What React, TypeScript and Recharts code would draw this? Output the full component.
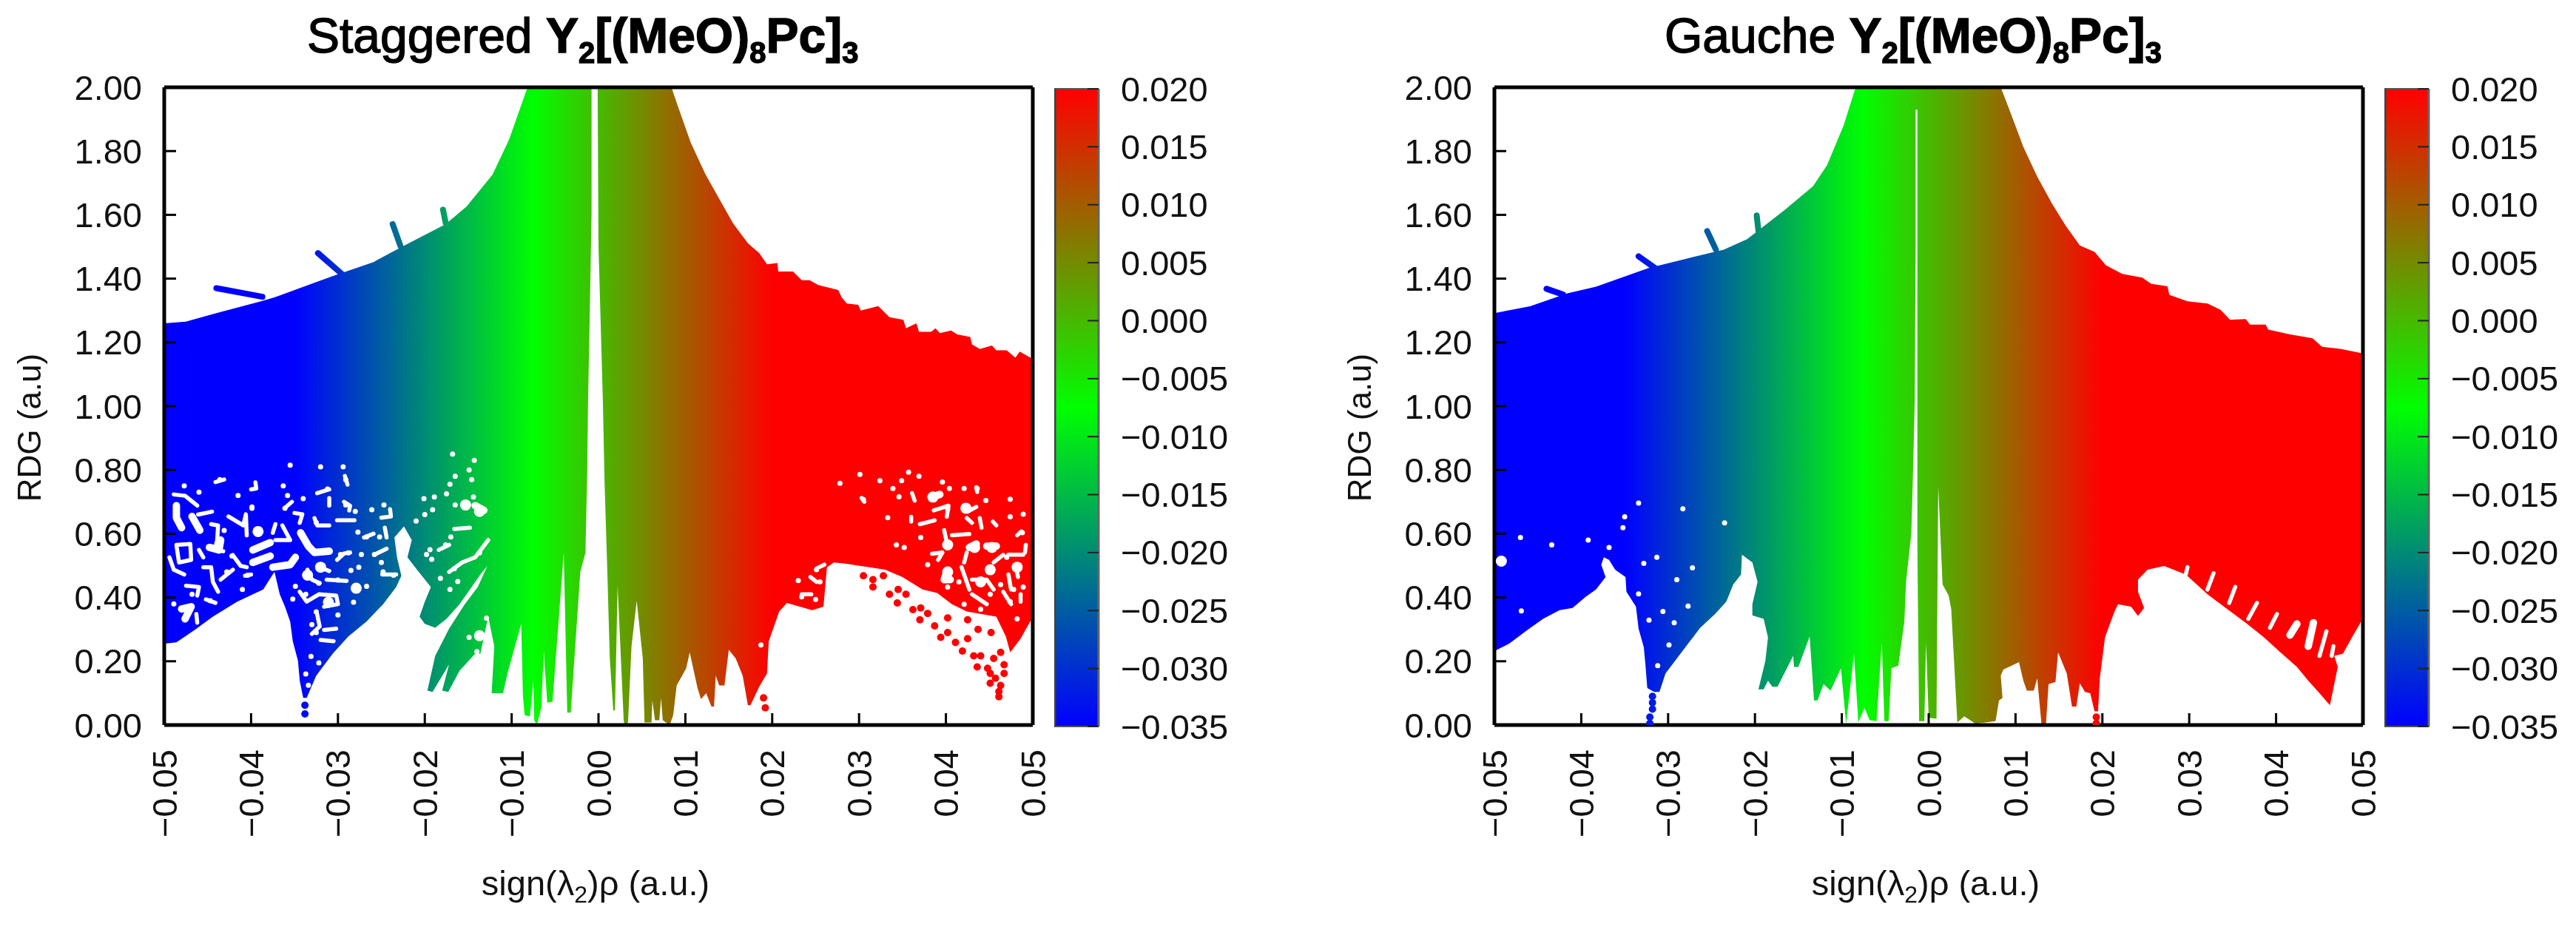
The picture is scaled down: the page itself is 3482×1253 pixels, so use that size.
import { ComposedChart, Area, Line, Scatter, XAxis, YAxis, ReferenceLine } from "recharts"

type Pt = [number, number]

const xTicks = [-0.05, -0.04, -0.03, -0.02, -0.01, 0, 0.01, 0.02, 0.03, 0.04, 0.05]
const yTicks = [0, 0.2, 0.4, 0.6, 0.8, 1, 1.2, 1.4, 1.6, 1.8, 2]
const barTicks = [-0.035, -0.03, -0.025, -0.02, -0.015, -0.01, -0.005, 0, 0.005, 0.01, 0.015, 0.02]
const colorStops = [
  { value: -0.035, color: "#0000ff" },
  { value: -0.0075, color: "#00ff00" },
  { value: 0.02, color: "#ff0000" },
]

// Staggered panel: outer edge of the point cloud
const staggeredUpper: Pt[] = [
  [-0.05, 1.26], [-0.0475, 1.265], [-0.044, 1.292], [-0.0387, 1.33], [-0.0372, 1.342], [-0.0308, 1.406],
  [-0.0259, 1.452], [-0.0225, 1.502], [-0.0176, 1.571], [-0.0152, 1.626], [-0.0122, 1.726], [-0.0103, 1.836],
  [-0.0083, 1.99], [-0.0081, 2], [0.0084, 2], [0.009, 1.952], [0.0106, 1.828], [0.0123, 1.728], [0.0139, 1.65],
  [0.0155, 1.573], [0.0172, 1.511], [0.0185, 1.48], [0.0194, 1.445], [0.0206, 1.449], [0.0207, 1.422],
  [0.0224, 1.422], [0.0234, 1.395], [0.0243, 1.395], [0.0253, 1.38], [0.0276, 1.364], [0.028, 1.341],
  [0.0286, 1.322], [0.0299, 1.318], [0.0302, 1.3], [0.0322, 1.314], [0.0335, 1.279], [0.0351, 1.271],
  [0.0354, 1.244], [0.0366, 1.26], [0.0369, 1.233], [0.0383, 1.233], [0.0388, 1.244], [0.0393, 1.229],
  [0.0406, 1.237], [0.0413, 1.225], [0.0428, 1.217], [0.043, 1.194], [0.0439, 1.179], [0.0453, 1.19],
  [0.0458, 1.175], [0.047, 1.175], [0.048, 1.152], [0.0485, 1.171], [0.05, 1.148],
]

const staggeredLower: Pt[] = [
  [-0.05, 0.255], [-0.0486, 0.259], [-0.0465, 0.298], [-0.0444, 0.34], [-0.0416, 0.387], [-0.0386, 0.425],
  [-0.0377, 0.464], [-0.0373, 0.48], [-0.0367, 0.41], [-0.0361, 0.371], [-0.0355, 0.325], [-0.0352, 0.263],
  [-0.0346, 0.201], [-0.0344, 0.139], [-0.034, 0.085], [-0.0336, 0.085], [-0.0325, 0.155], [-0.0306, 0.224],
  [-0.0288, 0.278], [-0.0267, 0.325], [-0.0248, 0.379], [-0.0233, 0.433], [-0.0227, 0.468], [-0.0232, 0.526],
  [-0.0235, 0.588], [-0.0224, 0.623], [-0.0215, 0.58], [-0.022, 0.526], [-0.0209, 0.487], [-0.0193, 0.433],
  [-0.02, 0.387], [-0.0206, 0.34], [-0.02, 0.317], [-0.0188, 0.305], [-0.0175, 0.333], [-0.016, 0.379],
  [-0.0148, 0.425], [-0.0136, 0.472], [-0.0128, 0.499], [-0.0139, 0.433], [-0.0154, 0.379], [-0.0172, 0.302],
  [-0.0188, 0.217], [-0.0197, 0.108], [-0.0191, 0.104], [-0.0172, 0.19], [-0.018, 0.108], [-0.0173, 0.104],
  [-0.016, 0.17], [-0.0142, 0.224], [-0.0136, 0.224], [-0.0127, 0.34], [-0.012, 0.247], [-0.0123, 0.1],
  [-0.011, 0.1], [-0.0104, 0.17], [-0.0089, 0.317], [-0.0087, 0.093], [-0.0085, 0.031], [-0.0079, 0.027],
  [-0.0075, 0.139], [-0.0074, 0.015], [-0.0071, 0], [-0.0066, 0.054], [-0.0063, 0.232], [-0.0059, 0.07],
  [-0.0053, 0.073], [-0.004, 0.541], [-0.0036, 0.039], [-0.0032, 0.039], [-0.0021, 0.479], [-0.0015, 0.541],
  [-0.0013, 0.8], [-0.0012, 1.02], [-0.001, 1.3], [-0.0008, 1.6], [-0.0008, 2], [-0.0001, 2], [0, 1.5],
  [0.0005, 1.02], [0.0007, 0.76], [0.001, 0.495], [0.0013, 0.209], [0.0017, 0.046], [0.0019, 0.046],
  [0.0022, 0.437], [0.0029, 0.015], [0.003, 0], [0.0034, 0.008], [0.0038, 0.247], [0.0044, 0.39],
  [0.0051, 0.209], [0.0053, 0.008], [0.0061, 0.008], [0.0062, 0.077], [0.0065, 0.015], [0.007, 0.015],
  [0.0072, 0.085], [0.0074, 0.015], [0.0082, 0], [0.0086, 0.031], [0.009, 0.124], [0.0101, 0.178],
  [0.0105, 0.228], [0.0109, 0.178], [0.0114, 0.116], [0.0118, 0.081], [0.0124, 0.1], [0.013, 0.058],
  [0.0133, 0.058], [0.0135, 0.155], [0.0139, 0.124], [0.0145, 0.124], [0.015, 0.236], [0.0158, 0.209],
  [0.0166, 0.155], [0.0172, 0.062], [0.0175, 0.062], [0.0185, 0.12], [0.0194, 0.162], [0.0196, 0.263],
  [0.0202, 0.309], [0.0208, 0.356], [0.0217, 0.383], [0.0246, 0.36], [0.0259, 0.371], [0.0261, 0.433],
  [0.0263, 0.495], [0.0271, 0.51], [0.0282, 0.507], [0.0292, 0.503], [0.0312, 0.495], [0.033, 0.487],
  [0.035, 0.464], [0.0373, 0.425], [0.039, 0.414], [0.0407, 0.379], [0.0424, 0.356], [0.0458, 0.34],
  [0.0469, 0.278], [0.0474, 0.228], [0.0486, 0.271], [0.0497, 0.325], [0.05, 0.33],
]

const staggeredStubs: Pt[][] = [
  [[-0.044, 1.37], [-0.0387, 1.343]],
  [[-0.0323, 1.48], [-0.0296, 1.416]],
  [[-0.0237, 1.571], [-0.0228, 1.502]],
  [[-0.0179, 1.616], [-0.0176, 1.575]],
]

// white channels running through the sparse part of the cloud
const staggeredVeins: Pt[][] = [
  [[-0.0489, 0.723], [-0.0476, 0.719], [-0.0462, 0.688]],
  [[-0.0461, 0.66], [-0.0445, 0.669]],
  [[-0.0446, 0.63], [-0.0438, 0.626], [-0.0439, 0.58], [-0.0442, 0.549], [-0.0432, 0.545]],
  [[-0.0426, 0.654], [-0.0409, 0.626], [-0.0406, 0.661], [-0.0405, 0.595]],
  [[-0.0375, 0.603], [-0.0372, 0.63]],
  [[-0.0372, 0.58], [-0.0355, 0.58], [-0.0364, 0.626]],
  [[-0.035, 0.665], [-0.0341, 0.661], [-0.0344, 0.634]],
  [[-0.0361, 0.681], [-0.0353, 0.7]],
  [[-0.0327, 0.649], [-0.0324, 0.626], [-0.031, 0.626]],
  [[-0.0324, 0.727], [-0.031, 0.739]],
  [[-0.031, 0.712], [-0.031, 0.688]],
  [[-0.0293, 0.7], [-0.0286, 0.688], [-0.0287, 0.673]],
  [[-0.0301, 0.642], [-0.0281, 0.642]],
  [[-0.0292, 0.781], [-0.0289, 0.754]],
  [[-0.0301, 0.518], [-0.0293, 0.538], [-0.0286, 0.541]],
  [[-0.0321, 0.495], [-0.031, 0.483]],
  [[-0.0335, 0.487], [-0.033, 0.456], [-0.0321, 0.445]],
  [[-0.0313, 0.456], [-0.029, 0.452]],
  [[-0.0344, 0.418], [-0.0336, 0.387], [-0.0322, 0.41], [-0.0302, 0.406], [-0.03, 0.379], [-0.0316, 0.371]],
  [[-0.027, 0.588], [-0.0259, 0.6]],
  [[-0.025, 0.65], [-0.0239, 0.654], [-0.024, 0.677]],
  [[-0.0246, 0.619], [-0.0244, 0.588]],
  [[-0.0256, 0.537], [-0.0244, 0.553]],
  [[-0.0249, 0.472], [-0.0233, 0.472]],
  [[-0.0486, 0.565], [-0.047, 0.568], [-0.0469, 0.518], [-0.0483, 0.51], [-0.0486, 0.565]],
  [[-0.046, 0.549], [-0.0455, 0.526]],
  [[-0.0494, 0.526], [-0.0489, 0.487], [-0.0477, 0.472]],
  [[-0.0455, 0.495], [-0.0446, 0.495], [-0.0444, 0.449], [-0.0438, 0.418]],
  [[-0.0435, 0.456], [-0.0421, 0.487]],
  [[-0.0421, 0.533], [-0.0412, 0.499], [-0.0405, 0.495]],
  [[-0.0452, 0.394], [-0.0441, 0.383]],
  [[-0.0475, 0.437], [-0.046, 0.433], [-0.0462, 0.406]],
  [[-0.0463, 0.348], [-0.0462, 0.321]],
  [[-0.0407, 0.468], [-0.04, 0.472]],
  [[-0.0324, 0.348], [-0.0321, 0.309], [-0.033, 0.286]],
  [[-0.0316, 0.298], [-0.0302, 0.302]],
  [[-0.032, 0.267], [-0.0305, 0.263]],
  [[-0.0441, 0.762], [-0.0431, 0.77]],
  [[-0.0395, 0.761], [-0.0394, 0.742], [-0.04, 0.739]],
  [[-0.0166, 0.615], [-0.0148, 0.619]],
  [[-0.0184, 0.549], [-0.0172, 0.565]],
  [[-0.0172, 0.48], [-0.0157, 0.51], [-0.0142, 0.526], [-0.0127, 0.58]],
  [[0.0361, 0.727], [0.0364, 0.704]],
  [[0.0303, 0.712], [0.0306, 0.7]],
  [[0.0435, 0.746], [0.0436, 0.731]],
  [[0.0386, 0.673], [0.0403, 0.688], [0.0401, 0.653]],
  [[0.042, 0.684], [0.0425, 0.669], [0.0435, 0.684]],
  [[0.037, 0.63], [0.0387, 0.642]],
  [[0.036, 0.653], [0.036, 0.638]],
  [[0.0424, 0.649], [0.043, 0.634]],
  [[0.0439, 0.649], [0.0441, 0.619]],
  [[0.0454, 0.638], [0.0458, 0.626]],
  [[0.0398, 0.611], [0.0401, 0.572]],
  [[0.0407, 0.595], [0.0427, 0.599]],
  [[0.0487, 0.607], [0.0482, 0.595]],
  [[0.0492, 0.565], [0.0491, 0.541]],
  [[0.0384, 0.537], [0.0396, 0.541], [0.0391, 0.518]],
  [[0.0424, 0.541], [0.0421, 0.51]],
  [[0.0455, 0.51], [0.0466, 0.534]],
  [[0.0472, 0.534], [0.0489, 0.534]],
  [[0.048, 0.503], [0.0483, 0.464]],
  [[0.0418, 0.495], [0.0427, 0.425]],
  [[0.043, 0.456], [0.0447, 0.456], [0.0455, 0.425]],
  [[0.0472, 0.472], [0.0475, 0.425]],
  [[0.0466, 0.418], [0.0475, 0.379]],
  [[0.043, 0.41], [0.0447, 0.379]],
  [[0.0486, 0.41], [0.0486, 0.387]],
  [[0.0251, 0.491], [0.026, 0.503]],
  [[0.0244, 0.464], [0.0251, 0.449]],
  [[0.0234, 0.41], [0.0245, 0.41]],
]

const staggeredWideVeins: Pt[][] = [
  [[-0.0486, 0.688], [-0.0486, 0.65], [-0.048, 0.619]],
  [[-0.0468, 0.654], [-0.0459, 0.611]],
  [[-0.0398, 0.549], [-0.0378, 0.572]],
  [[-0.0398, 0.51], [-0.0378, 0.53]],
  [[-0.0375, 0.495], [-0.0355, 0.503], [-0.0349, 0.526]],
  [[-0.0343, 0.603], [-0.0334, 0.561], [-0.0327, 0.541], [-0.031, 0.545]],
  [[-0.0448, 0.557], [-0.0437, 0.549], [-0.0435, 0.58]],
  [[-0.048, 0.364], [-0.0469, 0.371], [-0.0476, 0.333]],
  [[-0.0142, 0.688], [-0.0132, 0.673]],
  [[0.0383, 0.715], [0.0393, 0.723]],
  [[0.0427, 0.557], [0.0435, 0.568]],
  [[0.0447, 0.561], [0.0458, 0.561]],
  [[0.0401, 0.48], [0.0398, 0.456], [0.0405, 0.456]],
]

const staggeredBigHoles: Pt[] = [
  [-0.0392, 0.607], [-0.0279, 0.429], [-0.032, 0.495], [-0.0335, 0.47], [-0.0311, 0.385],
  [-0.0153, 0.69], [-0.0137, 0.67], [-0.0137, 0.28], [0.0385, 0.715], [0.0423, 0.68], [0.0402, 0.565],
  [0.0433, 0.557], [0.0453, 0.557], [0.0451, 0.487], [0.0482, 0.495], [0.0402, 0.48], [0.044, 0.449],
]

const staggeredSmallHoles: Pt[] = [
  [-0.0399, 0.684], [-0.0489, 0.38], [-0.0468, 0.41], [-0.0447, 0.39], [-0.0428, 0.48], [-0.0422, 0.53],
  [-0.0431, 0.61], [-0.046, 0.73], [-0.0436, 0.77], [-0.0477, 0.75], [-0.0415, 0.72], [-0.0399, 0.68],
  [-0.0393, 0.6], [-0.0404, 0.47], [-0.041, 0.425], [-0.0361, 0.68], [-0.0358, 0.72], [-0.0355, 0.815],
  [-0.0363, 0.75], [-0.034, 0.71], [-0.0312, 0.74], [-0.0291, 0.77], [-0.0294, 0.81], [-0.032, 0.81],
  [-0.0325, 0.635], [-0.0291, 0.69], [-0.028, 0.67], [-0.0322, 0.445], [-0.0349, 0.435], [-0.0297, 0.535],
  [-0.0288, 0.54], [-0.0285, 0.485], [-0.03, 0.455], [-0.0279, 0.43], [-0.0337, 0.41], [-0.0352, 0.395],
  [-0.0282, 0.385], [-0.03, 0.345], [-0.0325, 0.355], [-0.033, 0.315], [-0.0325, 0.29], [-0.0331, 0.215],
  [-0.0322, 0.195], [-0.0337, 0.16], [-0.0334, 0.125], [-0.0261, 0.675], [-0.0247, 0.69], [-0.0252, 0.59],
  [-0.0267, 0.59], [-0.0277, 0.605], [-0.0258, 0.535], [-0.0273, 0.535], [-0.025, 0.51], [-0.0267, 0.435],
  [-0.0276, 0.495], [-0.0248, 0.48], [-0.0236, 0.47],
  [-0.0168, 0.85], [-0.0143, 0.83], [-0.0149, 0.8], [-0.0165, 0.78], [-0.0146, 0.77], [-0.0171, 0.755],
  [-0.0175, 0.725], [-0.0189, 0.715], [-0.0201, 0.71], [-0.0144, 0.715], [-0.02, 0.66], [-0.0191, 0.675],
  [-0.021, 0.64], [-0.0165, 0.69], [-0.017, 0.59], [-0.0176, 0.565], [-0.0194, 0.55], [-0.0192, 0.52],
  [-0.0198, 0.535], [-0.0166, 0.49], [-0.0137, 0.54], [-0.0182, 0.46], [-0.0171, 0.425], [-0.0162, 0.45],
  [-0.014, 0.23], [-0.0149, 0.275], [-0.0129, 0.335],
  [0.0301, 0.786], [0.0357, 0.793], [0.0369, 0.78], [0.0278, 0.758], [0.0324, 0.766], [0.0339, 0.742],
  [0.0349, 0.766], [0.0396, 0.762], [0.0421, 0.742], [0.0404, 0.742], [0.0436, 0.742], [0.0305, 0.707],
  [0.0346, 0.716], [0.0446, 0.704], [0.0474, 0.708], [0.0402, 0.677], [0.0489, 0.661], [0.0333, 0.65],
  [0.0371, 0.588], [0.0488, 0.603], [0.0352, 0.557], [0.0343, 0.565], [0.047, 0.526], [0.0379, 0.503],
  [0.0415, 0.449], [0.0463, 0.44], [0.0489, 0.433], [0.0478, 0.425], [0.0402, 0.433], [0.0451, 0.41],
  [0.0474, 0.387], [0.0421, 0.379], [0.0398, 0.379], [0.044, 0.363], [0.0482, 0.333], [0.0474, 0.653],
  [0.0251, 0.487], [0.0255, 0.449], [0.023, 0.453], [0.0234, 0.402], [0.025, 0.394], [0.0187, 0.251],
]

// separate points below the edge
const staggeredDots: Pt[] = [
  [-0.0338, 0.062], [-0.0338, 0.035], [0.019, 0.085], [0.0192, 0.054],
  [0.0305, 0.468], [0.0316, 0.456], [0.0316, 0.433], [0.0328, 0.468], [0.0335, 0.41], [0.0345, 0.425],
  [0.0354, 0.41], [0.0344, 0.383], [0.0362, 0.362], [0.0371, 0.367], [0.0379, 0.35], [0.037, 0.33],
  [0.0387, 0.311], [0.0402, 0.336], [0.0402, 0.29], [0.0394, 0.275], [0.0425, 0.271], [0.0411, 0.259],
  [0.0419, 0.232], [0.0432, 0.217], [0.044, 0.217], [0.0436, 0.182], [0.0455, 0.209], [0.0463, 0.228],
  [0.0467, 0.189], [0.0467, 0.162], [0.0448, 0.178], [0.0451, 0.162], [0.0457, 0.147], [0.0451, 0.131],
  [0.0463, 0.124], [0.0461, 0.089], [0.0461, 0.105], [0.0425, 0.33], [0.0437, 0.3], [0.0452, 0.29],
]

// Gauche panel
const gaucheUpper: Pt[] = [
  [-0.05, 1.292], [-0.0459, 1.313], [-0.0416, 1.354], [-0.0383, 1.375], [-0.0323, 1.433], [-0.028, 1.462],
  [-0.0236, 1.491], [-0.0209, 1.524], [-0.0166, 1.615], [-0.0133, 1.69], [-0.0117, 1.756], [-0.0098, 1.88],
  [-0.0084, 2], [0.0083, 2], [0.0093, 1.929], [0.0109, 1.813], [0.0125, 1.72], [0.0142, 1.635], [0.0158, 1.565],
  [0.0174, 1.504], [0.0191, 1.484], [0.0204, 1.442], [0.0223, 1.415], [0.0246, 1.403], [0.0256, 1.384],
  [0.0275, 1.376], [0.0277, 1.349], [0.0298, 1.329], [0.0321, 1.322], [0.0336, 1.302], [0.0347, 1.271],
  [0.0365, 1.273], [0.037, 1.256], [0.0388, 1.256], [0.0391, 1.24], [0.0416, 1.225], [0.0442, 1.213],
  [0.0453, 1.186], [0.0475, 1.179], [0.0497, 1.167], [0.05, 1.165],
]

const gaucheLower: Pt[] = [
  [-0.05, 0.232], [-0.0483, 0.255], [-0.0462, 0.298], [-0.0444, 0.333], [-0.0425, 0.36], [-0.041, 0.367],
  [-0.0395, 0.402], [-0.0383, 0.425], [-0.0372, 0.464], [-0.0377, 0.503], [-0.0374, 0.526], [-0.0368, 0.518],
  [-0.0361, 0.487], [-0.0349, 0.464], [-0.0348, 0.418], [-0.0337, 0.371], [-0.0334, 0.302], [-0.0328, 0.244],
  [-0.0326, 0.186], [-0.0324, 0.116], [-0.0316, 0.104], [-0.031, 0.104], [-0.0303, 0.162], [-0.0292, 0.201],
  [-0.0277, 0.255], [-0.0263, 0.305], [-0.0246, 0.348], [-0.0233, 0.387], [-0.0225, 0.441], [-0.0216, 0.472],
  [-0.0215, 0.534], [-0.0203, 0.51], [-0.0197, 0.449], [-0.0203, 0.379], [-0.0203, 0.344], [-0.019, 0.333],
  [-0.0185, 0.275], [-0.0188, 0.201], [-0.0196, 0.112], [-0.019, 0.112], [-0.0185, 0.139], [-0.018, 0.12],
  [-0.0174, 0.12], [-0.0156, 0.217], [-0.0155, 0.182], [-0.015, 0.182], [-0.0137, 0.278], [-0.0132, 0.077],
  [-0.0128, 0.077], [-0.0121, 0.128], [-0.0113, 0.108], [-0.0101, 0.178], [-0.0095, 0.004], [-0.0086, 0.224],
  [-0.0081, 0.008], [-0.0074, 0.054], [-0.0068, 0.015], [-0.006, 0.012], [-0.0054, 0.259], [-0.0051, 0.012],
  [-0.0046, 0.012], [-0.0043, 0.178], [-0.0035, 0.186], [-0.0028, 0.325], [-0.0026, 0.45], [-0.002, 0.6],
  [-0.0018, 0.797], [-0.0016, 1.02], [-0.0015, 1.5], [-0.0015, 1.93], [-0.0013, 1.93], [-0.0013, 1.02],
  [-0.0013, 0.556], [-0.0011, 0.012], [-0.0005, 0.012], [-0.0003, 0.259], [0, 0.023], [0.0009, 0.02],
  [0.0011, 0.75], [0.0016, 0.441], [0.0023, 0.406], [0.0026, 0.363], [0.0033, 0.008], [0.0041, 0.027],
  [0.0054, 0.004], [0.0077, 0.012], [0.0081, 0.077], [0.0085, 0.085], [0.0083, 0.155], [0.0086, 0.174],
  [0.0104, 0.197], [0.0109, 0.139], [0.0113, 0.108], [0.0121, 0.108], [0.0125, 0.147], [0.013, 0],
  [0.0135, 0], [0.0138, 0.128], [0.0146, 0.135], [0.0149, 0.228], [0.0159, 0.162], [0.0165, 0.058],
  [0.017, 0.058], [0.0174, 0.131], [0.018, 0.104], [0.0186, 0.1], [0.0191, 0.043], [0.0195, 0.043],
  [0.0197, 0.147], [0.0203, 0.275], [0.0214, 0.356], [0.0218, 0.379], [0.0233, 0.371], [0.0241, 0.342],
  [0.0248, 0.367], [0.0241, 0.418], [0.0241, 0.456], [0.0252, 0.487], [0.0271, 0.499], [0.0296, 0.472],
  [0.0321, 0.41], [0.034, 0.371], [0.0365, 0.321], [0.0386, 0.275], [0.0405, 0.228], [0.0424, 0.182],
  [0.0437, 0.139], [0.045, 0.1], [0.0462, 0.062], [0.0471, 0.182], [0.0467, 0.217], [0.0477, 0.224],
  [0.0488, 0.278], [0.0498, 0.325], [0.05, 0.33],
]

const gaucheStubs: Pt[][] = [
  [[-0.044, 1.368], [-0.0421, 1.35]],
  [[-0.0334, 1.47], [-0.0315, 1.433]],
  [[-0.0255, 1.549], [-0.0245, 1.491]],
  [[-0.0198, 1.598], [-0.0196, 1.549]],
]

const gaucheVeins: Pt[][] = [
  [[0.0298, 0.495], [0.0296, 0.472]],
  [[0.0328, 0.476], [0.0321, 0.425]],
  [[0.0353, 0.433], [0.0346, 0.383]],
  [[0.0378, 0.383], [0.0368, 0.333]],
  [[0.0401, 0.348], [0.0393, 0.305]],
  [[0.0458, 0.294], [0.045, 0.217]],
  [[0.0466, 0.247], [0.0464, 0.217]],
]

const gaucheWideVeins: Pt[][] = [
  [[0.0424, 0.317], [0.0416, 0.282]],
  [[0.0443, 0.321], [0.0437, 0.247]],
]

const gaucheBigHoles: Pt[] = [[-0.0492, 0.514]]

const gaucheSmallHoles: Pt[] = [
  [-0.0334, 0.696], [-0.035, 0.653], [-0.0352, 0.619], [-0.0368, 0.557], [-0.047, 0.588], [-0.0434, 0.565],
  [-0.0392, 0.58], [-0.0313, 0.526], [-0.0328, 0.507], [-0.0272, 0.493], [-0.029, 0.456], [-0.0334, 0.411],
  [-0.0277, 0.373], [-0.0306, 0.356], [-0.0322, 0.329], [-0.0293, 0.321], [-0.0469, 0.358], [-0.0299, 0.251],
  [-0.0312, 0.186], [-0.0235, 0.634], [-0.0283, 0.678],
]

const gaucheDots: Pt[] = [
  [-0.0318, 0.09], [-0.0318, 0.07], [-0.0318, 0.05], [-0.0321, 0.025], [-0.0321, 0.005], [0.0193, 0.025], [0.0193, 0.005],
]

const rows = (pts: Pt[]) => pts.map(([x, y]) => ({ x, y }))
const minus = (s: string) => s.replace("-", "\u2212")

const FONT = "'Liberation Sans', Arial, sans-serif"
const TICK_FONT = 47
const CHART_W = 1684
const CHART_H = 1253
const PLOT = { left: 222, right: 1396, top: 118, bottom: 980 }

function XTick({ x, y, payload }: any) {
  return (
    <g>
      <line x1={x} x2={x} y1={y} y2={y - 16} stroke="#000" strokeWidth={3} />
      <text
        x={x}
        y={y + 33}
        transform={`rotate(-90 ${x} ${y + 33})`}
        textAnchor="end"
        dominantBaseline="central"
        fontSize={TICK_FONT}
        fontFamily={FONT}
        fill="#111"
      >
        {minus(payload.value.toFixed(2))}
      </text>
    </g>
  )
}

function YTick({ x, y, payload }: any) {
  return (
    <g>
      <line x1={x} x2={x + 16} y1={y} y2={y} stroke="#000" strokeWidth={3} />
      <text x={x - 30} y={y} textAnchor="end" dominantBaseline="central" fontSize={TICK_FONT} fontFamily={FONT} fill="#111">
        {payload.value.toFixed(2)}
      </text>
    </g>
  )
}

function BarTick({ x, y, payload }: any) {
  return (
    <g>
      <line x1={x - 15} x2={x} y1={y} y2={y} stroke="#222" strokeWidth={2} />
      <text x={x + 30} y={y} dominantBaseline="central" fontSize={TICK_FONT} fontFamily={FONT} fill="#111">
        {minus(payload.value.toFixed(3))}
      </text>
    </g>
  )
}

const circle = (r: number, fill: string) => (p: any) => <circle cx={p.cx} cy={p.cy} r={r} fill={fill} />

function gapLine(points: Pt[], key: string, width: number) {
  return (
    <Line
      key={key}
      data={rows(points)}
      dataKey="y"
      type="linear"
      stroke="#fff"
      strokeWidth={width}
      strokeLinecap="round"
      strokeLinejoin="round"
      dot={false}
      activeDot={false}
      isAnimationActive={false}
    />
  )
}

function Panel({ id, left, titleX, titleHead, upper, lower, stubs, veins, wideVeins, bigHoles, smallHoles, dots }: any) {
  const grad = `url(#${id})`
  return (
    <div style={{ position: "absolute", left, top: 0 }}>
      <ComposedChart
        width={CHART_W}
        height={CHART_H}
        margin={{ top: PLOT.top, left: PLOT.left - 60, right: CHART_W - PLOT.right, bottom: CHART_H - PLOT.bottom - 100 }}
      >
        <defs>
          <linearGradient id={id} gradientUnits="userSpaceOnUse" x1={PLOT.left} x2={PLOT.right} y1={0} y2={0}>
            {colorStops.map((s) => (
              <stop key={s.value} offset={(s.value + 0.05) / 0.1} stopColor={s.color} />
            ))}
          </linearGradient>
        </defs>
        <XAxis
          type="number"
          dataKey="x"
          domain={[-0.05, 0.05]}
          ticks={xTicks}
          interval={0}
          height={100}
          allowDataOverflow
          tickSize={0}
          tickMargin={0}
          tick={<XTick />}
          axisLine={{ stroke: "#000", strokeWidth: 5 }}
        />
        <YAxis
          type="number"
          dataKey="y"
          domain={[0, 2]}
          ticks={yTicks}
          interval={0}
          width={60}
          allowDataOverflow
          tickSize={0}
          tickMargin={0}
          tick={<YTick />}
          axisLine={{ stroke: "#000", strokeWidth: 5 }}
        />
        <Area data={rows(upper)} dataKey="y" type="linear" fill={grad} fillOpacity={1} stroke="none" dot={false} activeDot={false} isAnimationActive={false} />
        <Area data={rows(lower)} dataKey="y" type="linear" fill="#fff" fillOpacity={1} stroke="none" dot={false} activeDot={false} isAnimationActive={false} />
        {stubs.map((s: Pt[], i: number) => (
          <Line key={`stub${i}`} data={rows(s)} dataKey="y" type="linear" stroke={grad} strokeWidth={8} strokeLinecap="round" dot={false} activeDot={false} isAnimationActive={false} />
        ))}
        {veins.map((v: Pt[], i: number) => gapLine(v, `vein${i}`, 5.5))}
        {wideVeins.map((v: Pt[], i: number) => gapLine(v, `wide${i}`, 10))}
        <Scatter data={rows(bigHoles)} dataKey="y" shape={circle(7.5, "#fff")} isAnimationActive={false} />
        <Scatter data={rows(smallHoles)} dataKey="y" shape={circle(3.5, "#fff")} isAnimationActive={false} />
        <Scatter data={rows(dots)} dataKey="y" shape={circle(5, grad)} isAnimationActive={false} />
        <ReferenceLine y={2} stroke="#000" strokeWidth={5} />
        <ReferenceLine x={0.05} stroke="#000" strokeWidth={5} />
        <text x={titleX} y={71} fontSize={66} fontFamily={FONT} fill="#000" stroke="#000" strokeWidth={1.4}>
          <tspan>{titleHead} </tspan>
          <tspan fontWeight="bold">Y</tspan>
          <tspan fontWeight="bold" fontSize={40} dy={14}>2</tspan>
          <tspan fontWeight="bold" dy={-14}>[(MeO)</tspan>
          <tspan fontWeight="bold" fontSize={40} dy={14}>8</tspan>
          <tspan fontWeight="bold" dy={-14}>Pc]</tspan>
          <tspan fontWeight="bold" fontSize={40} dy={14}>3</tspan>
        </text>
        <text x={55} y={578} transform="rotate(-90 55 578)" textAnchor="middle" fontSize={44} fontFamily={FONT} fill="#111">
          RDG (a.u)
        </text>
        <text x={805} y={1210} textAnchor="middle" fontSize={47} fontFamily={FONT} fill="#111">
          <tspan>sign(λ</tspan>
          <tspan fontSize={32} dy={10}>2</tspan>
          <tspan dy={-10}>)ρ (a.u.)</tspan>
        </text>
      </ComposedChart>
    </div>
  )
}

function ColorBar({ id, left }: { id: string; left: number }) {
  const ends = [
    { x: 0, span: [barTicks[0], barTicks[barTicks.length - 1]] },
    { x: 1, span: [barTicks[0], barTicks[barTicks.length - 1]] },
  ]
  return (
    <div style={{ position: "absolute", left, top: 0 }}>
      <ComposedChart width={320} height={CHART_H} data={ends} margin={{ top: 120, left: 0, right: 0, bottom: CHART_H - 982 }}>
        <defs>
          <linearGradient id={id} x1={0} x2={0} y1={0} y2={1}>
            {[...colorStops].reverse().map((s) => (
              <stop key={s.value} offset={(0.02 - s.value) / 0.055} stopColor={s.color} />
            ))}
          </linearGradient>
        </defs>
        <XAxis type="number" dataKey="x" domain={[0, 1]} hide />
        <YAxis
          type="number"
          orientation="right"
          domain={[-0.035, 0.02]}
          ticks={barTicks}
          interval={0}
          width={260}
          tickSize={0}
          tickMargin={0}
          tick={<BarTick />}
          axisLine={{ stroke: "#666", strokeWidth: 3 }}
        />
        <Area dataKey="span" type="linear" fill={`url(#${id})`} fillOpacity={1} stroke="#555" strokeWidth={2} dot={false} activeDot={false} isAnimationActive={false} />
        <ReferenceLine x={0} stroke="#3c4444" strokeWidth={5} />
      </ComposedChart>
    </div>
  )
}

export default function App() {
  return (
    <div style={{ position: "absolute", left: 0, top: 0, width: 3482, height: 1253, background: "#fff", overflow: "hidden", filter: "blur(0.6px)" }}>
      <Panel
        id="rdgStaggered"
        left={0}
        titleX={415}
        titleHead="Staggered"
        upper={staggeredUpper}
        lower={staggeredLower}
        stubs={staggeredStubs}
        veins={staggeredVeins}
        wideVeins={staggeredWideVeins}
        bigHoles={staggeredBigHoles}
        smallHoles={staggeredSmallHoles}
        dots={staggeredDots}
      />
      <ColorBar id="barStaggered" left={1425} />
      <Panel
        id="rdgGauche"
        left={1798}
        titleX={452}
        titleHead="Gauche"
        upper={gaucheUpper}
        lower={gaucheLower}
        stubs={gaucheStubs}
        veins={gaucheVeins}
        wideVeins={gaucheWideVeins}
        bigHoles={gaucheBigHoles}
        smallHoles={gaucheSmallHoles}
        dots={gaucheDots}
      />
      <ColorBar id="barGauche" left={3223} />
    </div>
  )
}
